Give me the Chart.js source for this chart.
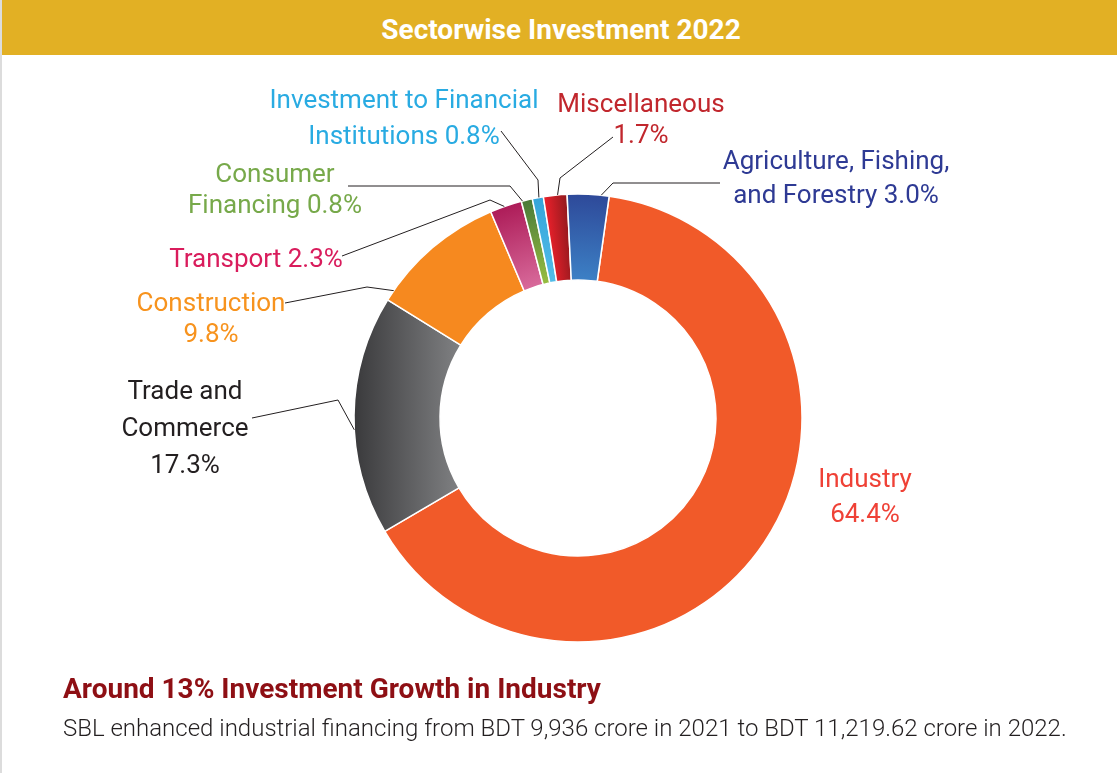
<!DOCTYPE html>
<html lang="en">
<head>
<meta charset="UTF-8">
<title>Sectorwise Investment 2022</title>
<style>
    html, body { margin: 0; padding: 0; background: #ffffff; }
    body { width: 1117px; height: 773px; position: relative; overflow: hidden; font-family: Roboto, "Noto Sans", sans-serif; }
    .borda { position: absolute; left: 0; top: 0; width: 2px; height: 773px; background: #dcdcdc; }
    .faixa { position: absolute; left: 2px; top: 0; width: 1115px; height: 55px; background: #e2b024; }
    .faixa span { position: absolute; left: 559px; top: 13px; transform: translateX(-50%); color: #ffffff; font-weight: 700; font-size: 28px; line-height: 34px; white-space: nowrap; }
    #grafico { position: absolute; left: 0; top: 0; }
    .nota { position: absolute; left: 63px; top: 672px; white-space: nowrap; }
    .nota h2 { margin: 0; font-size: 28px; font-weight: 700; color: #8e0f14; line-height: 34px; }
    .nota p { margin: 0; font-size: 24px; font-weight: 300; color: #231f20; line-height: 44px; }
</style>
</head>
<body>
    <div class="borda"></div>
    <canvas id="grafico" width="1117" height="773"></canvas>
    <div class="faixa"><span>Sectorwise Investment 2022</span></div>
    <div class="nota">
        <h2>Around 13% Investment Growth in Industry</h2>
        <p>SBL enhanced industrial financing from BDT 9,936 crore in 2021 to BDT 11,219.62 crore in 2022.</p>
    </div>

    <script src="https://cdn.jsdelivr.net/npm/chart.js"></script>
    <script>
        // dados do gráfico (ordem horária a partir da indústria)
        const setores = ['Industry', 'Trade and Commerce', 'Construction', 'Transport', 'Consumer Financing', 'Investment to Financial Institutions', 'Miscellaneous', 'Agriculture, Fishing, and Forestry'];
        const percentuais = [64.4, 17.3, 9.8, 2.3, 0.8, 0.8, 1.7, 3.0];
        const rotulosTexto = [
            ['Industry', '64.4%'],
            ['Trade and', 'Commerce', '17.3%'],
            ['Construction', '9.8%'],
            ['Transport 2.3%'],
            ['Consumer', 'Financing 0.8%'],
            ['Investment to Financial', 'Institutions 0.8%'],
            ['Miscellaneous', '1.7%'],
            ['Agriculture, Fishing,', 'and Forestry 3.0%']
        ];

        // estilo
        const coresTexto = ['#ef4136', '#231f20', '#f7931e', '#d91c5c', '#77a94a', '#29abe2', '#c1272d', '#2e3a94'];
        const coresBase = ['#f15a29', '#5a5a5c', '#f6891f', '#c02a68', '#5f8f3b', '#3fb0e1', '#c81d25', '#3160aa'];

        // posição dos rótulos: x central, linhas de base, fração do arco, cotovelo e ponta da linha
        const layoutRotulos = [
            { x: 865, linhas: [487, 522] },
            { x: 185, linhas: [399, 436, 473], frac: 0.44, cotovelo: [338, 400], ponta: [252, 418] },
            { x: 211, linhas: [311, 342], frac: 0.08, cotovelo: [367, 287], ponta: [285, 303] },
            { x: 256, linhas: [267], frac: 0.45, cotovelo: [490, 200], ponta: [342, 256] },
            { x: 275, linhas: [182, 213], frac: 0.1, cotovelo: [510, 186], ponta: [348, 186] },
            { x: 404, linhas: [108, 144], frac: 0.6, cotovelo: [538, 180], ponta: [501, 131] },
            { x: 641, linhas: [112, 143], frac: 0.6, cotovelo: [560, 178], ponta: [613, 137] },
            { x: 836, linhas: [169, 203], frac: 0.81, cotovelo: [613, 183], ponta: [720, 183] }
        ];

        function criarPreenchimento(ctx, i, a) {
            const { x, y, startAngle, endAngle, innerRadius, outerRadius } = a;
            let g;
            if (i === 1) {
                g = ctx.createLinearGradient(x - outerRadius, y, x - innerRadius * 0.85, y);
                g.addColorStop(0, '#3a3a3c');
                g.addColorStop(1, '#808183');
            } else if (i === 6) {
                const r = (innerRadius + outerRadius) / 2;
                g = ctx.createLinearGradient(x + Math.cos(startAngle) * r, y + Math.sin(startAngle) * r,
                    x + Math.cos(endAngle) * r, y + Math.sin(endAngle) * r);
                g.addColorStop(0, '#e4202a');
                g.addColorStop(1, '#981a1f');
            } else if (i >= 3) {
                const pares = { 3: ['#d86a9b', '#ad1c58'], 4: ['#97bd40', '#4a7a39'], 5: ['#52bce8', '#36a5da'], 7: ['#3c80c5', '#2e4999'] };
                g = ctx.createRadialGradient(x, y, innerRadius, x, y, outerRadius);
                g.addColorStop(0, pares[i][0]);
                g.addColorStop(1, pares[i][1]);
            } else {
                return coresBase[i];
            }
            return g;
        }

        const pluginRotulos = {
            id: 'rotulos',
            beforeDatasetsDraw(chart) {
                const ctx = chart.ctx;
                chart.getDatasetMeta(0).data.forEach((arco, i) => {
                    arco.options = Object.assign({}, arco.options, { backgroundColor: criarPreenchimento(ctx, i, arco) });
                });
            },
            afterDatasetsDraw(chart) {
                const ctx = chart.ctx;
                const arcos = chart.getDatasetMeta(0).data;
                ctx.save();
                arcos.forEach((arco, i) => {
                    const cfg = layoutRotulos[i];
                    if (cfg.frac !== undefined) {
                        const ang = arco.startAngle + (arco.endAngle - arco.startAngle) * cfg.frac;
                        const ax = arco.x + Math.cos(ang) * arco.outerRadius;
                        const ay = arco.y + Math.sin(ang) * arco.outerRadius;
                        ctx.beginPath();
                        ctx.moveTo(ax, ay);
                        ctx.lineTo(cfg.cotovelo[0], cfg.cotovelo[1]);
                        ctx.lineTo(cfg.ponta[0], cfg.ponta[1]);
                        ctx.strokeStyle = '#231f20';
                        ctx.lineWidth = 1;
                        ctx.stroke();
                    }
                    ctx.fillStyle = coresTexto[i];
                    ctx.font = '400 26px Roboto';
                    ctx.textAlign = 'center';
                    ctx.textBaseline = 'alphabetic';
                    rotulosTexto[i].forEach((linha, k) => {
                        ctx.fillText(linha, cfg.x, cfg.linhas[k]);
                    });
                });
                ctx.restore();
            }
        };

        const ctx = document.getElementById('grafico').getContext('2d');
        new Chart(ctx, {
            type: 'doughnut',
            data: {
                labels: setores,
                datasets: [{
                    data: percentuais,
                    backgroundColor: coresBase,
                    borderColor: '#ffffff',
                    borderWidth: 1.5
                }]
            },
            options: {
                responsive: false,
                animation: false,
                events: [],
                rotation: 8,
                radius: 224,
                cutout: '61.6%',
                layout: { padding: { left: 39, right: 0, top: 63, bottom: 0 } },
                plugins: {
                    legend: { display: false },
                    tooltip: { enabled: false }
                }
            },
            plugins: [pluginRotulos]
        });
    </script>
</body>
</html>
